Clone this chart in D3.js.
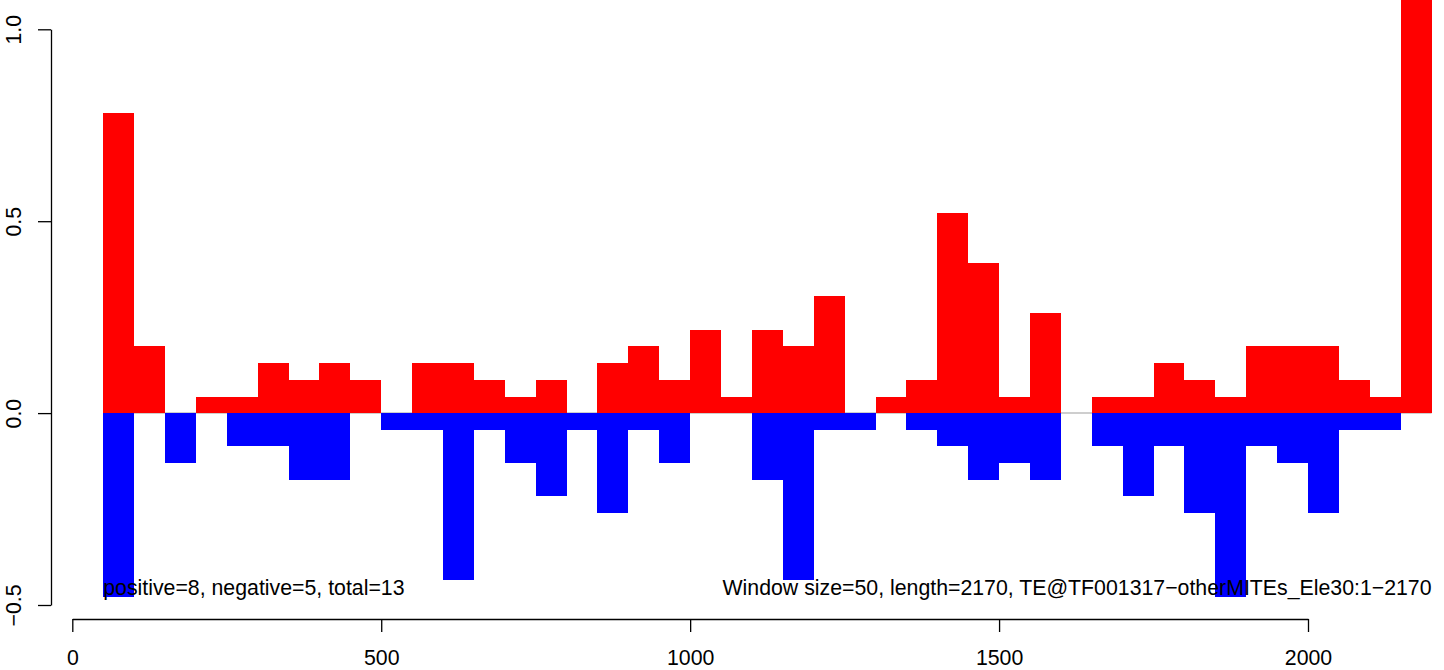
<!DOCTYPE html>
<html>
<head>
<meta charset="utf-8">
<script src="https://cdn.jsdelivr.net/npm/d3@7"></script>
<style>
  html, body { margin: 0; padding: 0; background: #ffffff; }
  svg { display: block; }
  text { font-family: "Liberation Sans", Arial, Helvetica, sans-serif; }
</style>
</head>
<body>
<svg id="chart" width="1444" height="670"></svg>
<script>
// ---- data ----
const binStarts = [50,100,150,200,250,300,350,400,450,500,550,600,650,700,750,800,850,900,950,1000,
  1050,1100,1150,1200,1250,1300,1350,1400,1450,1500,1550,1600,1650,1700,1750,1800,1850,1900,1950,2000,
  2050,2100,2150];
const binWidth = 50;
const positiveValues = [0.783,0.174,0,0.043,0.043,0.130,0.087,0.130,0.087,0,
  0.130,0.130,0.087,0.043,0.087,0,0.130,0.174,0.087,0.217,
  0.043,0.217,0.174,0.304,0,0.043,0.087,0.522,0.391,0.043,
  0.261,0,0.043,0.043,0.130,0.087,0.043,0.174,0.174,0.174,
  0.087,0.043,1.130];
const negativeValues = [0.478,0,0.130,0,0.087,0.087,0.174,0.174,0,0.043,
  0.043,0.435,0.043,0.130,0.217,0.043,0.261,0.043,0.130,0,
  0,0.174,0.435,0.043,0.043,0,0.043,0.087,0.174,0.130,
  0.174,0,0.087,0.217,0.087,0.261,0.478,0.087,0.130,0.261,
  0.043,0.043,0];
const xTicks = [0, 500, 1000, 1500, 2000];
const yTicks = [-0.5, 0.0, 0.5, 1.0];
const leftNote = "positive=8, negative=5, total=13";
const rightNote = "Window size=50, length=2170, TE@TF001317\u2212otherMITEs_Ele30:1\u22122170";

// ---- layout ----
const svg = d3.select("#chart");
const fontSize = 21.3;
const x = d3.scaleLinear().domain([0, 2000]).range([72.3, 1308]);
const y = d3.scaleLinear().domain([-0.5, 1.0]).range([605, 29.3]);
const yAxisX = 51;
const xAxisY = 619;

const fmt = v => d3.format(".1f")(v).replace("-", "\u2212");

// zero line
const xEnd = binStarts[binStarts.length - 1] + binWidth;
svg.append("line")
  .attr("x1", x(binStarts[0])).attr("x2", x(xEnd))
  .attr("y1", y(0)).attr("y2", y(0))
  .attr("stroke", "#bebebe").attr("stroke-width", 1.5);

const bins = binStarts.map((s, i) => ({ s, pos: positiveValues[i], neg: negativeValues[i] }));

// positive bars
svg.append("g").selectAll("rect")
  .data(bins.filter(d => d.pos > 0))
  .join("rect")
  .attr("x", d => x(d.s))
  .attr("width", d => x(d.s + binWidth) - x(d.s))
  .attr("y", d => y(d.pos))
  .attr("height", d => y(0) - y(d.pos))
  .attr("fill", "#ff0000")
  .attr("shape-rendering", "crispEdges");

// negative bars
svg.append("g").selectAll("rect")
  .data(bins.filter(d => d.neg > 0))
  .join("rect")
  .attr("x", d => x(d.s))
  .attr("width", d => x(d.s + binWidth) - x(d.s))
  .attr("y", y(0))
  .attr("height", d => y(-d.neg) - y(0))
  .attr("fill", "#0000ff")
  .attr("shape-rendering", "crispEdges");

// x axis
const gx = svg.append("g")
  .attr("transform", `translate(0,${xAxisY})`)
  .call(d3.axisBottom(x).tickValues(xTicks).tickFormat(d3.format("d")).tickSize(13).tickSizeOuter(0));
gx.selectAll("path, line").attr("stroke", "#000").attr("stroke-width", 1.3);
gx.selectAll("text")
  .attr("dy", null).attr("y", 46)
  .attr("font-size", fontSize).attr("fill", "#000")
  .attr("font-family", "Liberation Sans, Arial, sans-serif");

// y axis
const gy = svg.append("g")
  .attr("transform", `translate(${yAxisX},0)`)
  .call(d3.axisLeft(y).tickValues(yTicks).tickFormat(fmt).tickSize(13).tickSizeOuter(0));
gy.selectAll("path, line").attr("stroke", "#000").attr("stroke-width", 1.3);
gy.selectAll("text")
  .attr("dy", null).attr("x", 0).attr("y", -30)
  .attr("transform", "rotate(-90)")
  .attr("text-anchor", "middle")
  .attr("font-size", fontSize).attr("fill", "#000")
  .attr("font-family", "Liberation Sans, Arial, sans-serif");

// notes
svg.append("text")
  .attr("x", x(binStarts[0])).attr("y", 595)
  .attr("font-size", fontSize).attr("fill", "#000")
  .text(leftNote);
svg.append("text")
  .attr("x", x(xEnd)).attr("y", 595)
  .attr("text-anchor", "end")
  .attr("font-size", fontSize).attr("fill", "#000")
  .text(rightNote);
</script>
</body>
</html>
